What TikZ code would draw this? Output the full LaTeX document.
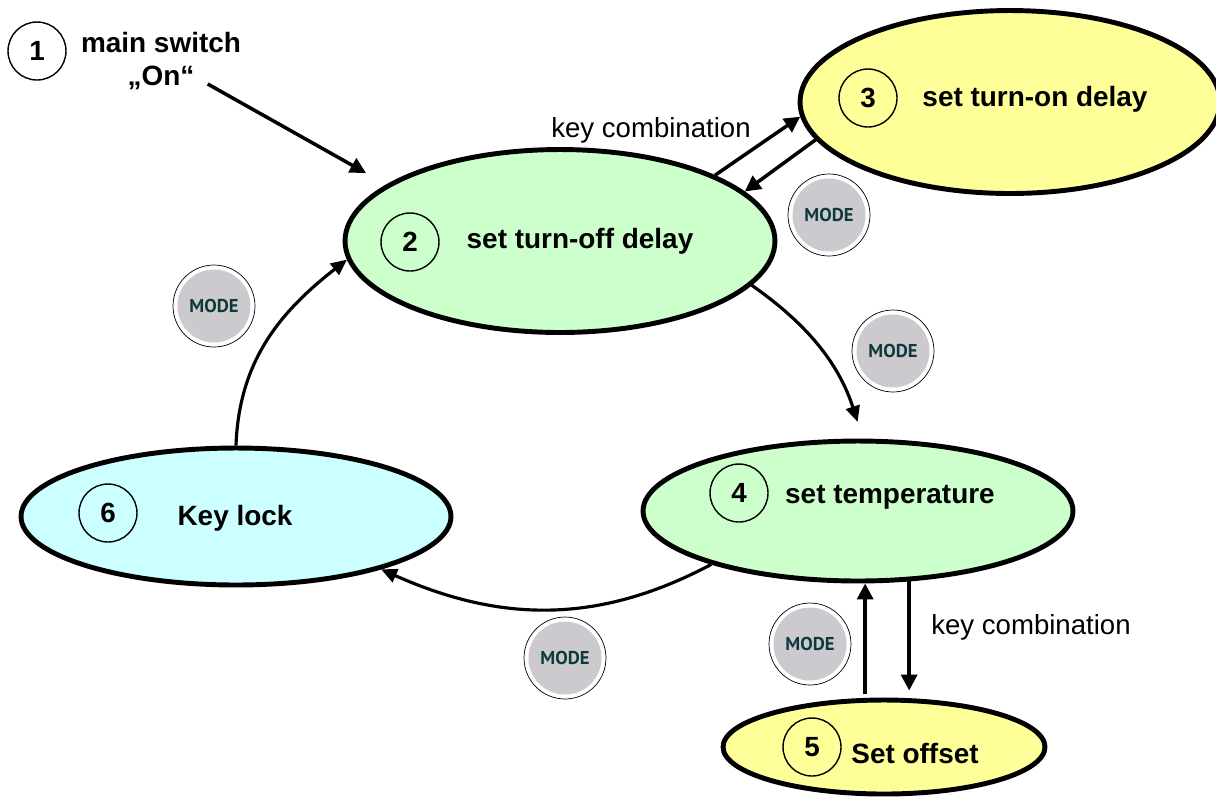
\documentclass[tikz,border=0pt]{standalone}
\usepackage{fontspec}
\setmainfont{Liberation Sans}
\newfontfamily\modefont{PT Sans}
\usetikzlibrary{shapes.geometric,arrows.meta}
\definecolor{palegreen}{HTML}{CCFFCC}
\definecolor{paleyellow}{HTML}{FFFF99}
\definecolor{palecyan}{HTML}{CCFFFF}
\definecolor{modegray}{HTML}{CDCACF}
\definecolor{modeink}{HTML}{0F3A3C}
\tikzset{
  state/.style={draw, ellipse, line width=2.8pt, inner sep=0pt},
  numcircle/.style={draw, circle, line width=0.8pt, minimum size=1.16cm, inner sep=0pt, font=\fontsize{15.8}{18}\selectfont\bfseries},
  title/.style={font=\fontsize{15.9}{18}\selectfont\bfseries, inner sep=0pt},
  plain/.style={font=\fontsize{15.7}{18}\selectfont, inner sep=0pt},
  modebtn/.style={draw, circle, fill=white, line width=0.4pt, minimum size=1.64cm, inner sep=0pt,
    path picture={\fill[modegray] (path picture bounding box.center) circle (0.73cm);},
    text=modeink, font=\modefont\fontsize{10.6}{12}\selectfont\bfseries},
  conn/.style={line width=2pt, -{Triangle[length=9pt,width=9pt]}},
  bent/.style={line width=1.8pt, -{Triangle[length=9pt,width=8pt]}}
}
\begin{document}
\begin{tikzpicture}[x=0.02cm,y=-0.02cm]
    \useasboundingbox (0,0) rectangle (1216,796);

    \node (off) at (560,241) [state, fill=palegreen, minimum width=8.6cm, minimum height=3.66cm]{};
    \node (on) at (1010,102) [state, fill=paleyellow, minimum width=8.4cm, minimum height=3.66cm]{};
    \node (temp) at (858,511) [state, fill=palegreen, minimum width=8.6cm, minimum height=2.8cm]{};
    \node (lock) at (236,516.5) [state, fill=palecyan, minimum width=8.6cm, minimum height=2.74cm]{};
    \node (offset) at (884,747) [state, fill=paleyellow, minimum width=6.44cm, minimum height=1.88cm]{};

    \node (n1) at (37,51) [numcircle]{1};
    \node (n2) at (410,242) [numcircle]{2};
    \node (n3) at (868,98) [numcircle]{3};
    \node (n4) at (739,493) [numcircle]{4};
    \node (n5) at (812,747) [numcircle]{5};
    \node (n6) at (108,513) [numcircle]{6};

    \node (switch) at (161,43) [title]{main switch};
    \node (swon) at (161,78) [title]{„On“};
    \node (toff) at (580,241) [title]{set turn-off delay};
    \node (ton) at (1035,99) [title]{set turn-on delay};
    \node (ttemp) at (890,497) [title]{set temperature};
    \node (tlock) at (235,518) [title]{Key lock};
    \node (tset) at (915,753) [title]{Set offset};

    \node (key1) at (651,130) [plain]{key combination};
    \node (key2) at (1031,627) [plain]{key combination};

    \node (m1) at (829,215) [modebtn]{MODE};
    \node (m2) at (214,306) [modebtn]{MODE};
    \node (m3) at (893,351) [modebtn]{MODE};
    \node (m4) at (565,658) [modebtn]{MODE};
    \node (m5) at (810,644) [modebtn]{MODE};

    \draw[conn] (swon.east) ++(13,6) coordinate (swstart) -- (366,173) coordinate (swend);

    \draw[conn] (off.23) -- (on.184);
    \draw[conn] (on.191) -- (off.15);

    \draw[bent, shorten >=10pt] (off.-13) to[out=-35, in=108] (temp.86);
    \draw[bent] (temp.-160) to[out=-152, in=-24] (lock.-20);
    \draw[bent] (lock.90) to[out=88, in=-142] (off.185);

    \draw[conn, shorten <=2pt] (offset.111) -- (offset.111 |- temp.south);
    \draw[conn, shorten >=4pt] (temp.-54) -- (temp.-54 |- offset.north);
\end{tikzpicture}
\end{document}
